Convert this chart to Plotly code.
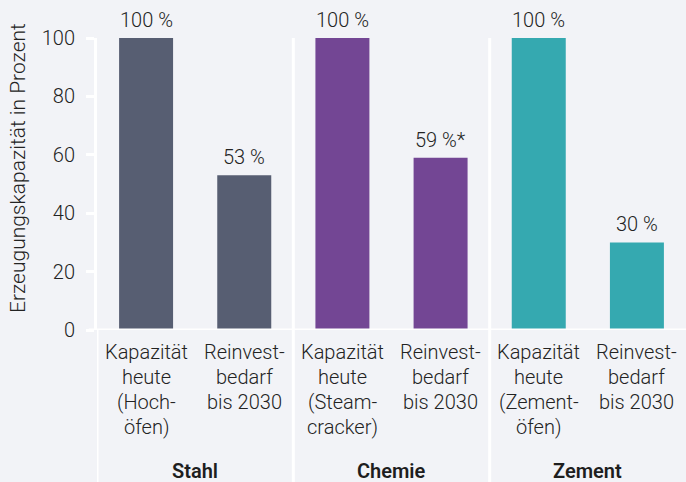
import plotly.graph_objects as go

categories = [
    "Kapazität<br>heute<br>(Hoch-<br>öfen)",
    "Reinvest-<br>bedarf<br>bis 2030",
    "Kapazität<br>heute<br>(Steam-<br>cracker)",
    "Reinvest-<br>bedarf<br>bis 2030",
    "Kapazität<br>heute<br>(Zement-<br>öfen)",
    "Reinvest-<br>bedarf<br>bis 2030",
]
values = [100, 53, 100, 59, 100, 30]
value_labels = ["100 %", "53 %", "100 %", "59 %*", "100 %", "30 %"]
groups = ["Stahl", "Chemie", "Zement"]
group_colors = ["#575e72", "#734694", "#35a9b0"]
y_ticks = [0, 20, 40, 60, 80, 100]
y_title = "Erzeugungskapazität in Prozent"

FONT = "Roboto"
TXT = "#232323"
BG = "#f2f3f7"
W = 300

xs = list(range(len(categories)))
colors = [group_colors[i // 2] for i in xs]

fig = go.Figure()
fig.add_trace(go.Bar(
    x=xs, y=values, marker=dict(color=colors, line=dict(width=0)),
    width=0.55, hoverinfo="skip", showlegend=False,
))

annotations = []
# value labels
for x, v, t in zip(xs, values, value_labels):
    annotations.append(dict(x=x, y=v, xref="x", yref="y", text=t, showarrow=False,
                            yanchor="bottom", yshift=4,
                            font=dict(family=FONT, size=20, color=TXT, weight=W)))
# category labels, line by line
for x, c in zip(xs, categories):
    for j, line in enumerate(c.split("<br>")):
        annotations.append(dict(x=x, y=0, xref="x", yref="paper", text=line, showarrow=False,
                                yanchor="middle", yshift=-22 - 25 * j,
                                font=dict(family=FONT, size=20, color=TXT, weight=W)))
# group labels
for g, name in enumerate(groups):
    annotations.append(dict(x=2 * g + 0.5, y=0, xref="x", yref="paper", text=name,
                            showarrow=False, yanchor="middle", yshift=-141,
                            font=dict(family=FONT, size=20, color="#1e1e1e", weight=600)))
# y-axis title
annotations.append(dict(x=0, y=0.5, xref="paper", yref="paper", text=y_title, showarrow=False,
                        textangle=-90, xanchor="center", yanchor="middle", xshift=-79, yshift=16,
                        font=dict(family=FONT, size=21, color=TXT, weight=W)))

shapes = []
# baseline
shapes.append(dict(type="line", xref="paper", yref="y", x0=-0.014, x1=1, y0=0, y1=0,
                   line=dict(color="white", width=3), layer="above"))
# group separators
for xp in [-0.5, 1.5, 3.5]:
    shapes.append(dict(type="line", xref="x", yref="paper", x0=xp, x1=xp, y0=1 if xp > 0 else 0,
                       y1=-0.53, line=dict(color="white", width=3), layer="below"))

fig.update_layout(
    width=686, height=482,
    margin=dict(l=97, r=0, t=38, b=152),
    paper_bgcolor=BG, plot_bgcolor=BG,
    font=dict(family=FONT, size=20, color=TXT),
    xaxis=dict(range=[-0.5, 5.5], showticklabels=False, showgrid=False, zeroline=False,
               showline=False, ticks="", fixedrange=True),
    yaxis=dict(range=[0, 100], tickvals=y_ticks, showgrid=False, zeroline=False,
               showline=True, linecolor="white", linewidth=3, ticks="outside",
               tickcolor="white", ticklen=8, tickwidth=3, ticklabelstandoff=7,
               tickfont=dict(family=FONT, size=20, color=TXT, weight=W), fixedrange=True),
    annotations=annotations, shapes=shapes,
)
fig.write_html("out.html", config={"displayModeBar": False},
               post_script="document.body.style.margin='0';document.body.style.background='%s';" % BG)
